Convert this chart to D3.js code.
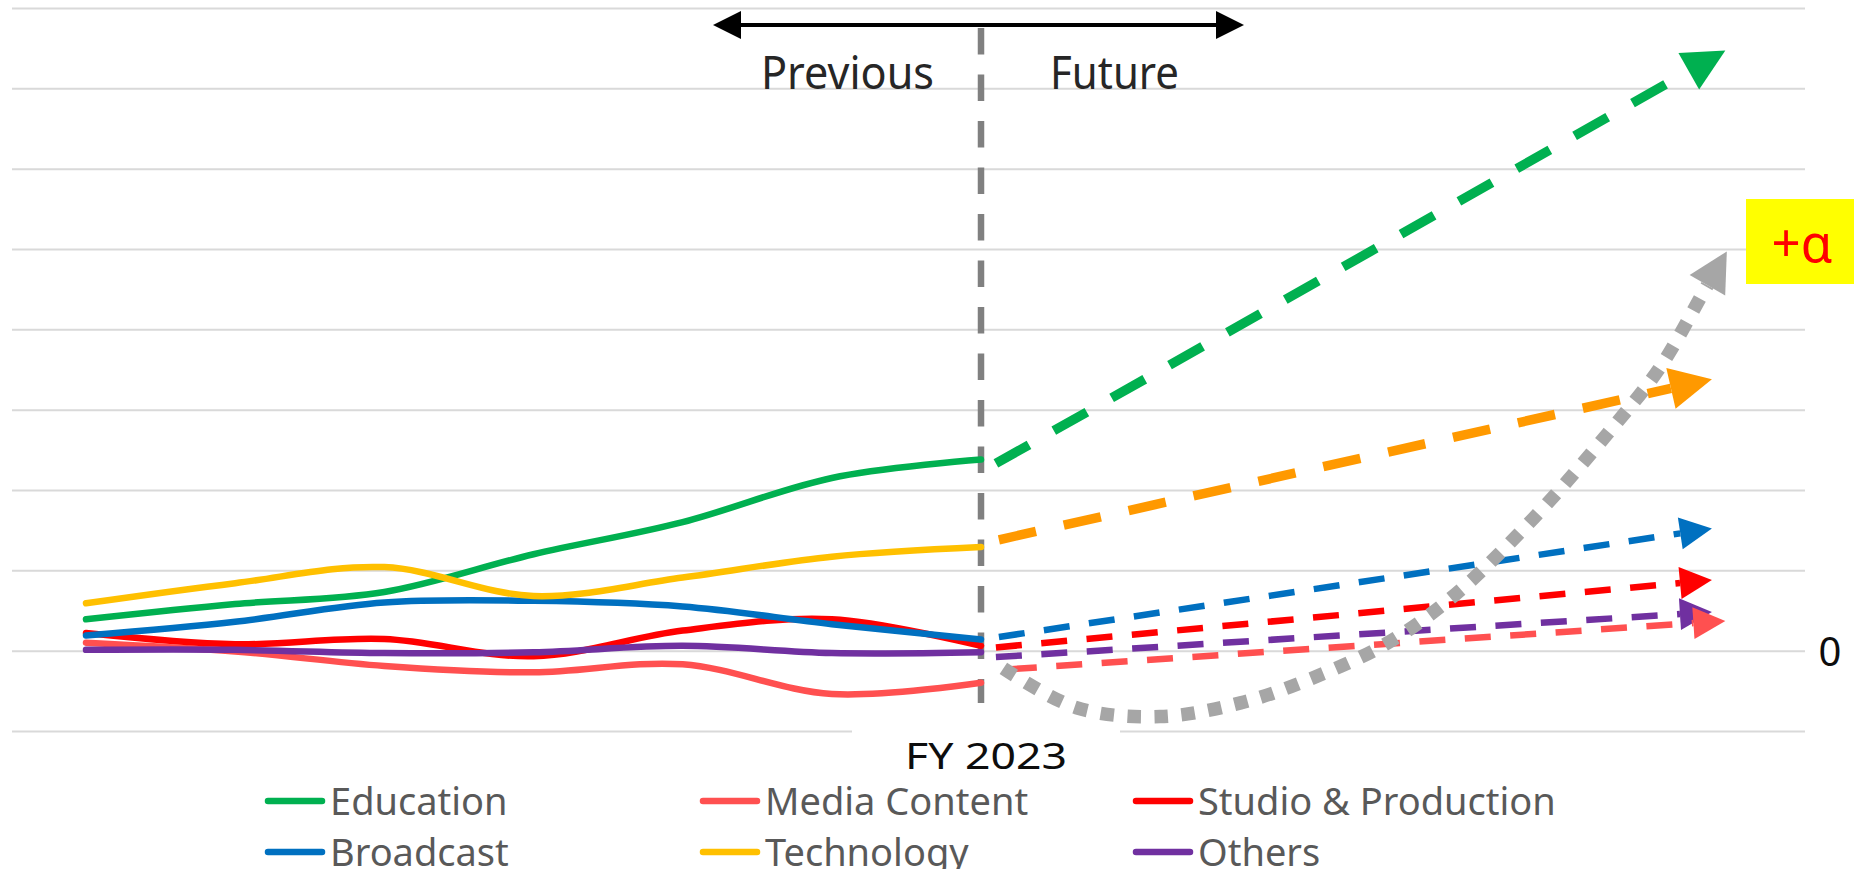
<!DOCTYPE html>
<html>
<head>
<meta charset="utf-8">
<script src="https://cdn.jsdelivr.net/npm/d3@7"></script>
<style>
  body { margin: 0; background: #fff; overflow: hidden; }
  text { font-family: "Noto Sans", "Open Sans", sans-serif; }
</style>
</head>
<body>
<div id="container"></div>
<script>
// data
const years = [2017, 2018, 2019, 2020, 2021, 2022, 2023];
const seriesNames = ["Education", "Media Content", "Studio & Production", "Broadcast", "Technology", "Others"];
const education = [0.39, 0.58, 0.73, 1.20, 1.60, 2.15, 2.38];
const mediaContent = [0.10, -0.01, -0.19, -0.27, -0.17, -0.54, -0.40];
const studio = [0.22, 0.08, 0.145, -0.07, 0.25, 0.39, 0.06];
const broadcast = [0.19, 0.36, 0.60, 0.62, 0.55, 0.33, 0.14];
const technology = [0.59, 0.84, 1.04, 0.68, 0.91, 1.17, 1.29];
const others = [0.01, 0.01, -0.03, -0.02, 0.06, -0.03, -0.02];

// forecast arrows (same order as seriesNames)
const forecastFrom = [2023.1, 2023.2, 2023.1, 2023.12, 2023.12, 2023.1];
const forecastTo = [2027.99, 2027.99, 2027.9, 2027.9, 2027.9, 2027.9];
const forecastStart = [2.33, -0.23, 0.04, 0.17, 1.38, -0.08];
const forecastEnd = [7.47, 0.37, 0.88, 1.52, 3.38, 0.48];

// "+alpha" dotted curve
const alphaYears = [2023.15, 2023.64, 2024.2, 2024.74, 2025.21, 2025.72, 2026.18, 2026.71, 2027.2, 2027.55, 2027.83, 2028.0];
const alphaValues = [-0.22, -0.71, -0.82, -0.65, -0.35, 0.09, 0.70, 1.66, 2.70, 3.52, 4.42, 4.97];

const yTicks = [-1, 0, 1, 2, 3, 4, 5, 6, 7, 8];

const pastColors = ["#00B050", "#FF5050", "#FF0000", "#0070C0", "#FFC000", "#7030A0"];
const futureColors = ["#00B050", "#FF5050", "#FF0000", "#0070C0", "#FF9900", "#7030A0"];

let w = 1854;
let h = 869;

let viz = d3.select("#container").append("svg")
    .attr("width", w)
    .attr("height", h)
    .style("display", "block")
    .style("background-color", "white");

let x = d3.scaleLinear().domain([2017, 2023]).range([86, 981]);
let y = d3.scaleLinear().domain([-1, 8]).range([731, 8]);

// gridlines
let grid = viz.append("g")
    .attr("transform", "translate(12,0)")
    .call(d3.axisLeft(y).tickValues(yTicks).tickSize(-(1805 - 12)).tickFormat(""));
grid.select(".domain").remove();
grid.selectAll("line").attr("stroke", "#d9d9d9").attr("stroke-width", 2);

// white box behind category label
viz.append("rect")
    .attr("x", 852).attr("y", 722)
    .attr("width", 268).attr("height", 56)
    .attr("fill", "white");

viz.append("text")
    .attr("x", x(2023) + 5)
    .attr("y", 769)
    .attr("text-anchor", "middle")
    .attr("font-family", "DejaVu Sans")
    .attr("font-size", 37)
    .attr("textLength", 162)
    .attr("lengthAdjust", "spacingAndGlyphs")
    .attr("fill", "#0d0d0d")
    .text("FY 2023");

viz.append("text")
    .attr("x", 1830)
    .attr("y", y(0) + 15)
    .attr("text-anchor", "middle")
    .attr("font-family", "DejaVu Sans")
    .attr("font-size", 40)
    .attr("fill", "#0d0d0d")
    .text("0");

// past lines
let pastData = [education, mediaContent, studio, broadcast, technology, others];
let lineMaker = d3.line()
    .x((d, i) => x(years[i]))
    .y(d => y(d))
    .curve(d3.curveCardinal.tension(0));

// dashed separator
viz.append("line")
    .attr("x1", x(2023)).attr("x2", x(2023))
    .attr("y1", 28).attr("y2", 703)
    .attr("stroke", "#808080")
    .attr("stroke-width", 6.5)
    .attr("stroke-dasharray", "26.5 20");

viz.selectAll(".past").data(pastData).enter()
  .append("path")
    .attr("class", "past")
    .attr("d", lineMaker)
    .attr("fill", "none")
    .attr("stroke", (d, i) => pastColors[i])
    .attr("stroke-width", 6.5)
    .attr("stroke-linecap", "round");

// arrow head helper: tip at (x2,y2)
function arrowHead(x1, y1, x2, y2, len, wid) {
  let dx = x2 - x1, dy = y2 - y1;
  let l = Math.sqrt(dx * dx + dy * dy);
  let ux = dx / l, uy = dy / l;
  let bx = x2 - ux * len, by = y2 - uy * len;
  let px = -uy * wid / 2, py = ux * wid / 2;
  return {
    base: [bx, by],
    pts: [[x2, y2], [bx + px, by + py], [bx - px, by - py]]
  };
}

// forecast dashed arrows
let drawOrder = [5, 2, 3, 1, 4, 0];
drawOrder.forEach(function(i) {
  let thick = (i == 0 || i == 4);
  let sw = thick ? 9.5 : 6.5;
  let size = thick ? 42 : 32;
  let x1 = x(forecastFrom[i]), y1 = y(forecastStart[i]);
  let x2 = x(forecastTo[i]), y2 = y(forecastEnd[i]);
  let a = arrowHead(x1, y1, x2, y2, size, size);
  viz.append("line")
      .attr("x1", x1).attr("y1", y1)
      .attr("x2", a.base[0]).attr("y2", a.base[1])
      .attr("stroke", futureColors[i])
      .attr("stroke-width", sw)
      .attr("stroke-dasharray", (sw * 4) + " " + (sw * 3));
  viz.append("polygon")
      .attr("points", a.pts.map(p => p.join(",")).join(" "))
      .attr("fill", futureColors[i]);
});

// +alpha dotted curve
let alphaPts = alphaYears.map((yr, i) => [x(yr), y(alphaValues[i])]);
let n = alphaPts.length;
let ga = arrowHead(alphaPts[n - 2][0], alphaPts[n - 2][1], alphaPts[n - 1][0], alphaPts[n - 1][1], 39, 41);
let alphaPath = alphaPts.slice(0, n - 1).concat([ga.base]);
viz.append("path")
    .attr("d", d3.line().curve(d3.curveCatmullRom)(alphaPath))
    .attr("fill", "none")
    .attr("stroke", "#A6A6A6")
    .attr("stroke-width", 13.5)
    .attr("stroke-dasharray", "13.5 13.5");
viz.append("polygon")
    .attr("points", ga.pts.map(p => p.join(",")).join(" "))
    .attr("fill", "#A6A6A6");

// +alpha badge
viz.append("rect")
    .attr("x", 1746).attr("y", 199)
    .attr("width", 108).attr("height", 85)
    .attr("fill", "#FFFF00");
viz.append("text")
    .attr("x", 1802)
    .attr("y", 262)
    .attr("text-anchor", "middle")
    .attr("font-size", 52)
    .attr("textLength", 61)
    .attr("lengthAdjust", "spacingAndGlyphs")
    .attr("fill", "#FF0000")
    .text("+α");

// previous / future arrow
let arrowY = 25;
let la = arrowHead(1244, arrowY, 713, arrowY, 28, 28);
let ra = arrowHead(713, arrowY, 1244, arrowY, 28, 28);
viz.append("line")
    .attr("x1", la.base[0]).attr("x2", ra.base[0])
    .attr("y1", arrowY).attr("y2", arrowY)
    .attr("stroke", "black")
    .attr("stroke-width", 4);
[la, ra].forEach(a => {
  viz.append("polygon")
      .attr("points", a.pts.map(p => p.join(",")).join(" "))
      .attr("fill", "black");
});

viz.append("text")
    .attr("x", 761).attr("y", 89)
    .attr("font-size", 45)
    .attr("textLength", 173)
    .attr("lengthAdjust", "spacingAndGlyphs")
    .attr("fill", "#262626")
    .text("Previous");
viz.append("text")
    .attr("x", 1050).attr("y", 89)
    .attr("font-size", 45)
    .attr("textLength", 129)
    .attr("lengthAdjust", "spacingAndGlyphs")
    .attr("fill", "#262626")
    .text("Future");

// legend
let legendColX = [268, 703, 1136];
let legendRowY = [801, 852];
let legend = viz.selectAll(".legend").data(seriesNames).enter()
  .append("g")
    .attr("class", "legend")
    .attr("transform", (d, i) => "translate(" + legendColX[i % 3] + "," + legendRowY[Math.floor(i / 3)] + ")");

legend.append("line")
    .attr("x1", 0).attr("x2", 54)
    .attr("y1", 0).attr("y2", 0)
    .attr("stroke", (d, i) => pastColors[i])
    .attr("stroke-width", 6.5)
    .attr("stroke-linecap", "round");

legend.append("text")
    .attr("x", 62)
    .attr("y", 14)
    .attr("font-size", 38)
    .attr("fill", "#595959")
    .text(d => d);
</script>
</body>
</html>
